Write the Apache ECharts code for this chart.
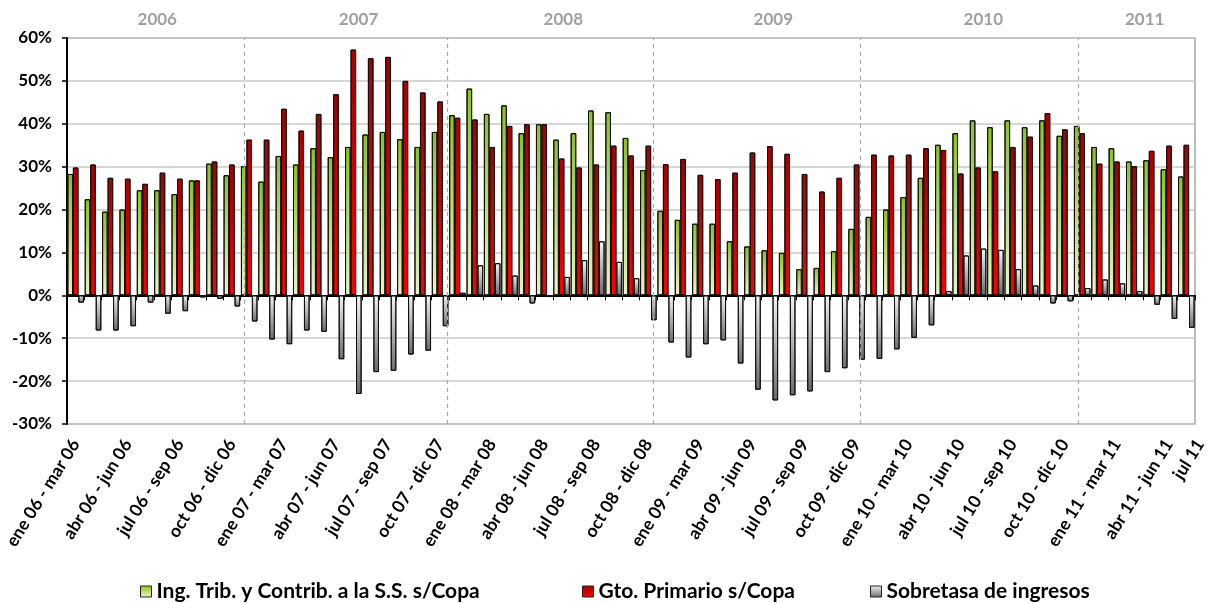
<!DOCTYPE html>
<html>
<head>
<meta charset="utf-8">
<script src="https://cdn.jsdelivr.net/npm/echarts@6/dist/echarts.min.js"></script>
<style>
  html, body { margin: 0; padding: 0; background: #fff; }
  #chart { width: 1207px; height: 603px; }
</style>
</head>
<body>
<div id="chart"></div>
<script>
// ventanas móviles de 3 meses
const categories = [
  'ene 06 - mar 06', 'feb 06 - abr 06', 'mar 06 - may 06', 'abr 06 - jun 06', 'may 06 - jul 06', 'jun 06 - ago 06',
  'jul 06 - sep 06', 'ago 06 - oct 06', 'sep 06 - nov 06', 'oct 06 - dic 06', 'nov 06 - ene 07', 'dic 06 - feb 07',
  'ene 07 - mar 07', 'feb 07 - abr 07', 'mar 07 - may 07', 'abr 07 - jun 07', 'may 07 - jul 07', 'jun 07 - ago 07',
  'jul 07 - sep 07', 'ago 07 - oct 07', 'sep 07 - nov 07', 'oct 07 - dic 07', 'nov 07 - ene 08', 'dic 07 - feb 08',
  'ene 08 - mar 08', 'feb 08 - abr 08', 'mar 08 - may 08', 'abr 08 - jun 08', 'may 08 - jul 08', 'jun 08 - ago 08',
  'jul 08 - sep 08', 'ago 08 - oct 08', 'sep 08 - nov 08', 'oct 08 - dic 08', 'nov 08 - ene 09', 'dic 08 - feb 09',
  'ene 09 - mar 09', 'feb 09 - abr 09', 'mar 09 - may 09', 'abr 09 - jun 09', 'may 09 - jul 09', 'jun 09 - ago 09',
  'jul 09 - sep 09', 'ago 09 - oct 09', 'sep 09 - nov 09', 'oct 09 - dic 09', 'nov 09 - ene 10', 'dic 09 - feb 10',
  'ene 10 - mar 10', 'feb 10 - abr 10', 'mar 10 - may 10', 'abr 10 - jun 10', 'may 10 - jul 10', 'jun 10 - ago 10',
  'jul 10 - sep 10', 'ago 10 - oct 10', 'sep 10 - nov 10', 'oct 10 - dic 10', 'nov 10 - ene 11', 'dic 10 - feb 11',
  'ene 11 - mar 11', 'feb 11 - abr 11', 'mar 11 - may 11', 'abr 11 - jun 11', 'jul 11'
];

const ingTrib = [
  28.3, 22.4, 19.5, 20.0, 24.5, 24.5, 23.6, 26.8, 30.7, 28.0, 30.1, 26.5, 32.5, 30.5, 34.3, 32.2, 34.6, 37.5, 38.1, 36.4, 34.6, 38.1,
  42.0, 48.2, 42.3, 44.3, 37.8, 39.9, 36.3, 37.8, 43.1, 42.7, 36.7, 29.2, 19.7, 17.6, 16.7, 16.7, 12.6, 11.4, 10.5, 9.9, 6.1, 6.4,
  10.3, 15.5, 18.3, 20.0, 22.9, 27.4, 35.1, 37.8, 40.8, 39.2, 40.8, 39.2, 40.8, 37.2, 39.5, 34.6, 34.3, 31.2, 31.5, 29.4, 27.7
];
const gtoPrimario = [
  29.8, 30.5, 27.4, 27.2, 26.0, 28.6, 27.2, 26.8, 31.2, 30.5, 36.3, 36.3, 43.5, 38.4, 42.3, 46.9, 57.3, 55.3, 55.6, 50.0, 47.3, 45.2,
  41.4, 41.0, 34.6, 39.5, 39.9, 39.9, 31.9, 29.8, 30.5, 34.9, 32.6, 34.9, 30.6, 31.8, 28.1, 27.1, 28.6, 33.3, 34.8, 33.0, 28.3, 24.2,
  27.4, 30.5, 32.8, 32.6, 32.8, 34.3, 33.9, 28.4, 29.8, 28.9, 34.6, 37.0, 42.5, 38.7, 37.8, 30.7, 31.2, 30.1, 33.7, 34.9, 35.1
];
const sobretasa = [
  -1.7, -8.2, -8.2, -7.2, -1.7, -4.3, -3.7, -0.5, -0.8, -2.6, -6.1, -10.3, -11.4, -8.2, -8.5, -14.9, -23.0, -17.9, -17.6, -13.8, -12.9, -7.2,
  0.6, 7.0, 7.5, 4.6, -1.9, -0.4, 4.3, 8.2, 12.6, 7.8, 4.0, -5.8, -11.0, -14.5, -11.4, -10.5, -15.9, -22.0, -24.5, -23.3, -22.4, -17.9,
  -17.0, -15.0, -14.8, -12.6, -9.9, -7.0, 1.0, 9.3, 10.9, 10.6, 6.1, 2.3, -1.9, -1.4, 1.7, 3.7, 2.8, 1.0, -2.2, -5.5, -7.6
];

const seriesNames = ['Ing. Trib. y Contrib. a la S.S. s/Copa', 'Gto. Primario s/Copa', 'Sobretasa de ingresos'];
const years = ['2006', '2007', '2008', '2009', '2010', '2011'];
// posición de los rótulos de año y separadores, en unidades de categoría
const yearPos = [5.2, 16.8, 28.6, 40.7, 52.8, 62.1];
const yearBreaks = [10.2, 21.9, 33.8, 45.7, 58.3];
// el último rótulo ("jul 11") queda desplazado a la derecha en el original
const lastLabelPos = 65.3;

const FONT = 'Lato';
const LABEL_ROT = 58;

function grad(top, bottom) {
  return new echarts.graphic.LinearGradient(0, 0, 0, 1, [
    { offset: 0, color: top }, { offset: 1, color: bottom }
  ]);
}
const fills = [grad('#8cc21a', '#ebf4c8'), grad('#a60000', '#ff0000'), grad('#f4f4f4', '#6a6a6a')];

const chart = echarts.init(document.getElementById('chart'));

function barSeries(name, data, i) {
  return {
    name, type: 'bar', data,
    xAxisIndex: 0, yAxisIndex: 0,
    barWidth: 5.6, barGap: '-2%',
    itemStyle: { color: fills[i], borderColor: '#111', borderWidth: 1 },
    emphasis: { disabled: true }
  };
}

function legendAt(name, left) {
  return {
    data: [name], left, top: 581, padding: 0, itemWidth: 11, itemHeight: 11, itemGap: 0,
    icon: 'rect',
    itemStyle: { borderColor: '#222', borderWidth: 1 },
    textStyle: { fontFamily: FONT, fontWeight: 'bold', fontSize: 21, color: '#000' },
    selectedMode: false
  };
}

const labelStyle = { fontFamily: FONT, fontWeight: 'bold', fontSize: 17.5, color: '#000' };

chart.setOption({
  animation: false,
  backgroundColor: '#fff',
  grid: { left: 67, right: 12, top: 38, bottom: 179, show: true, borderColor: '#a6a6a6', borderWidth: 1.5 },
  legend: [legendAt(seriesNames[0], 140), legendAt(seriesNames[1], 582), legendAt(seriesNames[2], 870)],
  xAxis: [
    {
      type: 'category', data: categories, position: 'bottom',
      axisLine: { show: false, onZero: false },
      axisTick: { show: false },
      axisLabel: Object.assign({
        interval: (i) => i % 3 === 0 && i < categories.length - 1,
        rotate: LABEL_ROT, margin: 17
      }, labelStyle),
      splitLine: { show: false }
    },
    {
      type: 'category', data: categories, position: 'bottom',
      axisLine: { onZero: true, lineStyle: { color: '#000', width: 2 } },
      axisTick: { show: true, interval: 0, length: 5, lineStyle: { color: '#000', width: 1 } },
      axisLabel: { show: false },
      splitLine: { show: false }
    },
    {
      type: 'value', min: 0, max: categories.length, show: false,
      axisLine: { onZero: false }
    }
  ],
  yAxis: {
    type: 'value', min: -30, max: 60, interval: 10,
    axisLine: { show: true, lineStyle: { color: '#000', width: 2 } },
    axisTick: { show: true, length: 5, lineStyle: { color: '#000', width: 1.5 } },
    axisLabel: { formatter: '{value}%', margin: 15, fontFamily: FONT, fontWeight: 'bold', fontSize: 17, color: '#000' },
    splitLine: { lineStyle: { color: '#c9c9c9', width: 1.5 } }
  },
  series: [
    barSeries(seriesNames[0], ingTrib, 0),
    barSeries(seriesNames[1], gtoPrimario, 1),
    barSeries(seriesNames[2], sobretasa, 2),
    {
      type: 'line', xAxisIndex: 2, yAxisIndex: 0, data: [], silent: true,
      markLine: {
        symbol: 'none', silent: true, label: { show: false },
        lineStyle: { color: '#a8a8a8', type: [4, 4], width: 1.2 },
        data: yearBreaks.map(v => ({ xAxis: v }))
      }
    }
  ]
});

const axisBottom = chart.convertToPixel({ yAxisIndex: 0 }, -30);
const graphic = years.map((y, i) => ({
  type: 'text',
  x: chart.convertToPixel({ xAxisIndex: 2 }, yearPos[i]),
  y: 20,
  style: {
    text: y, fill: '#a0a0a0', align: 'center', verticalAlign: 'middle',
    font: 'bold 17px ' + FONT
  }
}));
// rótulo final del eje, con la misma rotación que los demás
graphic.push({
  type: 'text',
  x: chart.convertToPixel({ xAxisIndex: 2 }, lastLabelPos),
  y: axisBottom + 17,
  rotation: LABEL_ROT * Math.PI / 180,
  style: {
    text: categories[categories.length - 1], fill: '#000', align: 'right', verticalAlign: 'middle',
    font: 'bold 17.5px ' + FONT
  }
});
chart.setOption({ graphic });
</script>
</body>
</html>
